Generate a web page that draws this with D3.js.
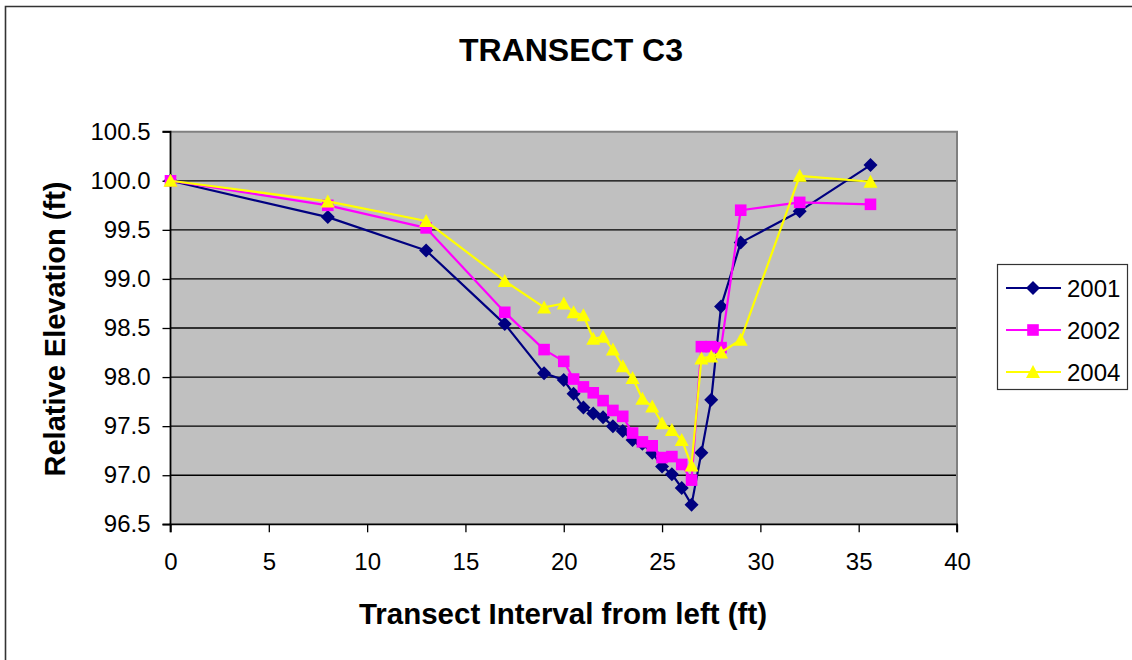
<!DOCTYPE html>
<html>
<head>
<meta charset="utf-8">
<script src="https://cdn.jsdelivr.net/npm/d3@7"></script>
<style>
  html, body { margin: 0; padding: 0; background: #fff; }
  svg { display: block; font-family: "Liberation Sans", Arial, sans-serif; }
</style>
</head>
<body>
<svg id="chart" width="1132" height="660"></svg>
<script>
// Station positions across the transect (ft from left pin)
const stations = [0, 8, 13, 17, 19, 20, 20.5, 21, 21.5, 22, 22.5, 23, 23.5, 24, 24.5,
                  25, 25.5, 26, 26.5, 27, 27.5, 28, 29, 32, 35.6];

// Relative elevations (ft) surveyed at each station
const elev2001 = [100.00, 99.63, 99.29, 98.54, 98.04, 97.97, 97.83, 97.69, 97.63, 97.59, 97.50,
                  97.45, 97.36, 97.32, 97.23, 97.09, 97.01, 96.87, 96.70, 97.23, 97.77, 98.72,
                  99.37, 99.69, 100.16];
const elev2002 = [100.00, 99.75, 99.52, 98.66, 98.28, 98.16, 97.98, 97.90, 97.84, 97.76, 97.66,
                  97.60, 97.43, 97.34, 97.30, 97.18, 97.19, 97.11, 96.95, 98.31, 98.31, 98.30,
                  99.70, 99.78, 99.76];
const elev2004 = [100.00, 99.79, 99.59, 98.98, 98.71, 98.75, 98.66, 98.63, 98.39, 98.41, 98.28,
                  98.11, 97.99, 97.78, 97.70, 97.53, 97.46, 97.36, 97.10, 98.19, 98.21, 98.25,
                  98.38, 100.05, 99.99];

const seriesNames = ["2001", "2002", "2004"];
const xTicks = [0, 5, 10, 15, 20, 25, 30, 35, 40];
const yTicks = [96.5, 97.0, 97.5, 98.0, 98.5, 99.0, 99.5, 100.0, 100.5];

const chartTitle = "TRANSECT C3";
const xTitle = "Transect Interval from left (ft)";
const yTitle = "Relative Elevation (ft)";

const series = [
  { name: seriesNames[0], values: elev2001, color: "#000080", marker: "diamond" },
  { name: seriesNames[1], values: elev2002, color: "#FF00FF", marker: "square" },
  { name: seriesNames[2], values: elev2004, color: "#FFFF00", marker: "triangle" }
];

const svg = d3.select("#chart");

// plot-area box
const pLeft = 170.5, pRight = 957, pTop = 131.7, pBottom = 524.3;

const x = d3.scaleLinear().domain([0, 40]).range([pLeft, pRight]);
const y = d3.scaleLinear().domain([96.5, 100.5]).range([pBottom, pTop]);

// outer chart frame
svg.append("path")
  .attr("d", `M5.5,662 L5.5,6.5 L1140,6.5`)
  .attr("fill", "none").attr("stroke", "#333").attr("stroke-width", 1.6);

// title
svg.append("text")
  .attr("x", 571).attr("y", 61)
  .attr("text-anchor", "middle")
  .attr("font-weight", "bold").attr("font-size", 32)
  .text(chartTitle);

// plot background
svg.append("rect")
  .attr("x", pLeft).attr("y", pTop)
  .attr("width", pRight - pLeft).attr("height", pBottom - pTop)
  .attr("fill", "#C0C0C0");

// horizontal gridlines
svg.append("g")
  .selectAll("line")
  .data(yTicks.filter(t => t > 96.5 && t < 100.5))
  .join("line")
  .attr("x1", pLeft).attr("x2", pRight)
  .attr("y1", d => y(d)).attr("y2", d => y(d))
  .attr("stroke", "#000").attr("stroke-width", 1.3);

// top and right border of plot area
svg.append("path")
  .attr("d", `M${pLeft},${pTop} L${pRight},${pTop} L${pRight},${pBottom}`)
  .attr("fill", "none").attr("stroke", "#808080").attr("stroke-width", 2);

// axes
const xAxis = d3.axisBottom(x).tickValues(xTicks).tickSize(8).tickPadding(21)
  .tickFormat(d3.format("d"));
const yAxis = d3.axisLeft(y).tickValues(yTicks).tickSize(8).tickPadding(12)
  .tickFormat(d3.format(".1f"));

const gx = svg.append("g").attr("transform", `translate(0,${pBottom})`).call(xAxis);
const gy = svg.append("g").attr("transform", `translate(${pLeft},0)`).call(yAxis);

[gx, gy].forEach(g => {
  g.select(".domain").attr("stroke", "#000").attr("stroke-width", 1.8);
  g.selectAll(".tick line").attr("stroke", "#000").attr("stroke-width", 1.3);
  g.selectAll(".tick text")
    .attr("fill", "#000")
    .attr("font-size", 24)
    .attr("font-family", "Liberation Sans, Arial, sans-serif");
});
gx.select(".domain").attr("d", `M${pLeft},8V0H${pRight}V8`);
gy.select(".domain").attr("d", `M-8,${pTop}H0V${pBottom}H-8`);

// axis titles
svg.append("text")
  .attr("x", 563).attr("y", 624)
  .attr("text-anchor", "middle")
  .attr("font-weight", "bold").attr("font-size", 29.5)
  .text(xTitle);

svg.append("text")
  .attr("transform", `translate(65,${(pTop + pBottom) / 2 + 1}) rotate(-90)`)
  .attr("text-anchor", "middle")
  .attr("font-weight", "bold").attr("font-size", 29)
  .text(yTitle);

// marker shapes around the origin
function markerPath(kind) {
  if (kind === "diamond") return "M0,-7L7,0L0,7L-7,0Z";
  if (kind === "square") return "M-5.8,-5.8H5.8V5.8H-5.8Z";
  return "M0,-7L7,6H-7Z";
}

const line = d3.line()
  .x((d, i) => x(stations[i]))
  .y(d => y(d));

const plot = svg.append("g");

series.forEach(s => {
  const g = plot.append("g");
  g.append("path")
    .attr("d", line(s.values))
    .attr("fill", "none")
    .attr("stroke", s.color)
    .attr("stroke-width", 2.2)
    .attr("stroke-linejoin", "round");
  g.selectAll("path.mk")
    .data(s.values)
    .join("path")
    .attr("class", "mk")
    .attr("d", markerPath(s.marker))
    .attr("transform", (d, i) => `translate(${x(stations[i])},${y(d)})`)
    .attr("fill", s.color);
});

// legend
const lg = svg.append("g");
lg.append("rect")
  .attr("x", 997.5).attr("y", 264.5)
  .attr("width", 130).attr("height", 125)
  .attr("fill", "#fff").attr("stroke", "#333").attr("stroke-width", 1.2);

const legendY = d3.scalePoint().domain(seriesNames).range([288, 372]);

series.forEach(s => {
  const cy = legendY(s.name);
  lg.append("line")
    .attr("x1", 1006).attr("x2", 1061)
    .attr("y1", cy).attr("y2", cy)
    .attr("stroke", s.color).attr("stroke-width", 2.2);
  lg.append("path")
    .attr("d", markerPath(s.marker))
    .attr("transform", `translate(1033,${cy})`)
    .attr("fill", s.color);
  lg.append("text")
    .attr("x", 1067).attr("y", cy + 8.5)
    .attr("font-size", 24)
    .text(s.name);
});
</script>
</body>
</html>
